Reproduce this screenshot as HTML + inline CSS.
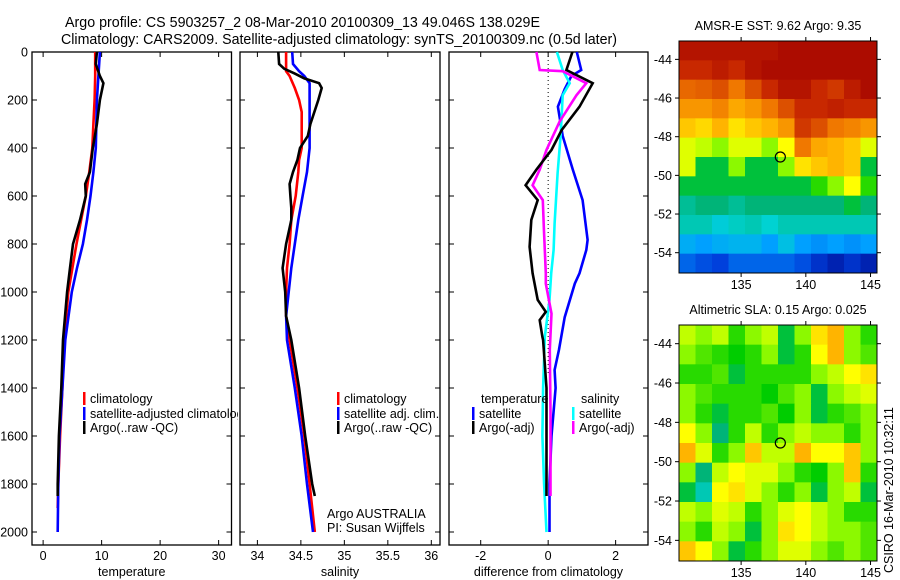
<!DOCTYPE html>
<html><head><meta charset="utf-8"><style>
html,body{margin:0;padding:0;background:#fff;}
svg{display:block;font-family:"Liberation Sans",sans-serif;}
</style></head><body>
<svg id="fig" width="900" height="580" viewBox="0 0 900 580" xmlns="http://www.w3.org/2000/svg">
<rect width="900" height="580" fill="#fff"/>
<text x="65" y="27" font-size="14.5" textLength="475" lengthAdjust="spacingAndGlyphs">Argo profile: CS 5903257_2 08-Mar-2010 20100309_13 49.046S 138.029E</text>
<text x="61" y="44" font-size="14.5" textLength="556" lengthAdjust="spacingAndGlyphs">Climatology: CARS2009. Satellite-adjusted climatology: synTS_20100309.nc (0.5d later)</text>
<g id="plots"></g>
</svg>
<script>
// ---------- profile data ----------
const tempClimDepth = [0,100,200,300,400,500,600,700,800,900,1000,1200,1400,1600,1800,1900];
const tempClim      = [8.9,8.9,8.8,8.6,8.4,7.9,7.3,6.5,5.7,5.0,4.3,3.6,3.3,2.9,2.6,2.5];
const tempSatDepth  = [0,200,400,500,600,700,800,900,1000,1200,1400,1600,1800,2000];
const tempSat       = [9.7,9.2,9.0,8.6,8.1,7.5,6.8,5.8,4.9,3.8,3.3,2.8,2.6,2.5];
const tempArgoDepth = [0,50,100,130,200,300,400,500,550,600,700,800,900,1000,1200,1400,1600,1800,1850];
const tempArgo      = [9.2,9.0,9.7,10.3,9.7,9.2,8.5,8.0,7.2,7.3,6.3,5.1,4.6,4.1,3.4,3.1,2.7,2.5,2.5];

const salClimDepth = [0,80,100,150,200,250,300,400,450,500,600,700,800,900,1000,1100,1200,1400,1600,1800,2000];
const salClim      = [34.33,34.33,34.37,34.43,34.48,34.51,34.51,34.51,34.48,34.47,34.44,34.39,34.37,34.34,34.33,34.33,34.37,34.46,34.54,34.60,34.66];
const salSatDepth  = [0,50,80,100,130,200,300,400,500,600,700,800,900,1000,1100,1200,1400,1600,1800,2000];
const salSat       = [34.40,34.41,34.48,34.54,34.60,34.60,34.60,34.60,34.57,34.52,34.47,34.43,34.39,34.36,34.33,34.34,34.43,34.51,34.57,34.64];
const salArgoDepth = [0,50,70,90,110,130,150,200,300,350,400,450,500,550,600,650,700,800,900,1000,1100,1200,1400,1600,1800,1850];
const salArgo      = [34.24,34.25,34.31,34.43,34.54,34.71,34.74,34.70,34.61,34.58,34.49,34.46,34.41,34.37,34.38,34.39,34.39,34.33,34.29,34.32,34.33,34.39,34.48,34.55,34.63,34.66];

const dTempArgoDepth = [0,75,130,228,325,408,490,555,617,700,812,922,1033,1083,1117,1187,1200,1400,1600,1850];
const dTempArgo      = [0.72,0.54,1.32,0.93,0.40,0.10,-0.35,-0.67,-0.31,-0.50,-0.55,-0.46,-0.31,-0.07,-0.25,-0.17,-0.15,-0.05,-0.05,-0.05];
const dSalArgoDepth  = [0,75,80,130,180,290,408,490,555,617,728,922,965,1090,1240,1500,1850];
const dSalArgo       = [-0.35,-0.25,0.43,1.13,0.84,0.34,-0.05,-0.25,-0.46,-0.16,-0.13,-0.07,-0.07,0.10,0.05,0.07,0.07];
const dSalSatDepth   = [0,75,130,180,350,505,714,825,922,1033,1187,1400,1600,1800,2000];
const dSalSat        = [0.26,0.43,0.64,0.43,0.37,0.28,0.19,0.16,0.09,0.04,-0.10,-0.15,-0.17,-0.12,-0.05];
const dTempSatDepth  = [0,75,100,155,228,350,490,617,783,825,922,965,1105,1240,1325,1400,1600,1800,2000];
const dTempSat       = [0.85,0.98,0.69,0.49,0.29,0.43,0.73,1.02,1.17,1.13,0.93,0.79,0.49,0.32,0.19,0.22,0.10,0.04,0.04];

const depthTicks = [0,200,400,600,800,1000,1200,1400,1600,1800,2000];
const tempTicks = [0,10,20,30];
const salTicks = [34,34.5,35,35.5,36];
const salTickLabels = ["34","34.5","35","35.5","36"];
const diffTicks = [-2,0,2];

// ---------- map data (values on 0..1 colour scale) ----------
const sstValues = [
 [0.95,0.95,0.95,0.95,0.95,0.95,0.97,0.97,0.97,0.97,0.97,0.97],
 [0.90,0.90,0.93,0.90,0.95,0.97,0.97,0.97,0.97,0.97,0.97,0.97],
 [0.82,0.83,0.85,0.80,0.85,0.90,0.95,0.95,0.90,0.88,0.93,0.97],
 [0.75,0.75,0.78,0.72,0.75,0.80,0.85,0.90,0.90,0.92,0.90,0.90],
 [0.68,0.66,0.70,0.65,0.68,0.70,0.75,0.88,0.85,0.80,0.78,0.75],
 [0.60,0.58,0.55,0.60,0.60,0.55,0.62,0.80,0.72,0.70,0.68,0.60],
 [0.60,0.45,0.45,0.55,0.45,0.45,0.55,0.65,0.68,0.70,0.68,0.45],
 [0.45,0.45,0.45,0.45,0.45,0.45,0.45,0.45,0.50,0.55,0.62,0.50],
 [0.40,0.42,0.42,0.40,0.42,0.42,0.42,0.42,0.42,0.42,0.45,0.42],
 [0.38,0.38,0.35,0.37,0.38,0.36,0.38,0.38,0.38,0.38,0.38,0.38],
 [0.30,0.28,0.30,0.31,0.31,0.28,0.33,0.28,0.26,0.28,0.26,0.28],
 [0.20,0.17,0.15,0.20,0.20,0.20,0.20,0.17,0.12,0.08,0.12,0.08]];
const slaValues = [
 [0.58,0.55,0.58,0.50,0.55,0.58,0.45,0.55,0.65,0.70,0.55,0.50],
 [0.55,0.52,0.50,0.48,0.50,0.55,0.45,0.50,0.62,0.70,0.55,0.52],
 [0.50,0.50,0.52,0.45,0.50,0.50,0.50,0.50,0.55,0.58,0.62,0.65],
 [0.55,0.52,0.50,0.50,0.50,0.48,0.52,0.55,0.45,0.55,0.58,0.60],
 [0.55,0.50,0.45,0.50,0.50,0.52,0.48,0.55,0.45,0.50,0.52,0.55],
 [0.62,0.55,0.42,0.50,0.58,0.50,0.55,0.58,0.55,0.55,0.50,0.55],
 [0.70,0.60,0.50,0.55,0.68,0.58,0.58,0.70,0.62,0.62,0.68,0.55],
 [0.55,0.42,0.58,0.62,0.60,0.60,0.55,0.50,0.48,0.55,0.68,0.50],
 [0.45,0.38,0.62,0.65,0.60,0.55,0.50,0.55,0.45,0.55,0.58,0.45],
 [0.58,0.55,0.60,0.58,0.50,0.55,0.60,0.62,0.58,0.55,0.50,0.50],
 [0.55,0.50,0.58,0.55,0.45,0.55,0.65,0.62,0.58,0.55,0.55,0.52],
 [0.68,0.62,0.55,0.45,0.50,0.55,0.60,0.60,0.55,0.52,0.55,0.52]];
const lonTicks = [135,140,145];
const latTicks = [-44,-46,-48,-50,-52,-54];
const argoLon = 138.03, argoLat = -49.05;

// ---------- drawing ----------
const NS = "http://www.w3.org/2000/svg";
const root = document.getElementById('plots');
function el(tag, attrs, parent, text) {
  const e = document.createElementNS(NS, tag);
  for (const k in attrs) e.setAttribute(k, attrs[k]);
  if (text !== undefined) e.textContent = text;
  (parent || root).appendChild(e);
  return e;
}
const T = 52, B = 545;
const yD = d => 52 + d * 0.24;

function panel(name, x0, x1, xmin, xmax, ticks, labels, xlabel, showY) {
  const g = el('g', {});
  
  
  const xs = v => x0 + (v - xmin) / (xmax - xmin) * (x1 - x0);
  const fr = el('rect', {x: x0, y: T, width: x1 - x0, height: B - T, fill: 'none', stroke: '#000', 'stroke-width': 1.3}, g);
  
  
  ticks.forEach((t, i) => {
    const x = xs(t);
    el('line', {x1: x, x2: x, y1: B, y2: B - 5, stroke: '#000'}, g);
    el('line', {x1: x, x2: x, y1: T, y2: T + 5, stroke: '#000'}, g);
    const lb = el('text', {x: x, y: 560, 'font-size': 12.5, 'text-anchor': 'middle'}, g, labels[i]);
    
    
  });
  depthTicks.forEach(d => {
    const y = yD(d);
    el('line', {x1: x0, x2: x0 + 5, y1: y, y2: y, stroke: '#000'}, g);
    el('line', {x1: x1, x2: x1 - 5, y1: y, y2: y, stroke: '#000'}, g);
    if (showY) {
      const lb = el('text', {x: 28, y: y + 4.5, 'font-size': 12.5, 'text-anchor': 'end'}, g, String(d));
      
      
    }
  });
  const xl = el('text', {x: (x0 + x1) / 2, y: 576, 'font-size': 12.5, 'text-anchor': 'middle'}, g, xlabel);
  
  
  return {g, xs};
}
function line(p, depths, vals, color, name) {
  const pts = depths.map((d, i) => p.xs(vals[i]).toFixed(1) + ',' + yD(d).toFixed(1)).join(' ');
  const pl = el('polyline', {points: pts, fill: 'none', stroke: color, 'stroke-width': 2.6, 'stroke-linejoin': 'miter'}, p.g);
  
  
}
function legend(g, x, y, color, label, name) {
  const lg = el('g', {}, g);
  
  
  if (color) el('rect', {x: x, y: y - 11, width: 2.5, height: 13, fill: color}, lg);
  el('text', {x: x + 7, y: y, 'font-size': 12.5}, lg, label);
}

// temperature
const p1 = panel('temperature-panel', 32, 231.5, -1.9, 32.2, tempTicks, tempTicks.map(String), 'temperature', true);
line(p1, tempClimDepth, tempClim, '#f00', 'temp-climatology-line');
line(p1, tempSatDepth, tempSat, '#00f', 'temp-satellite-line');
line(p1, tempArgoDepth, tempArgo, '#000', 'temp-argo-line');
const clipDef = el('clipPath', {id: 'c1'}, p1.g);
el('rect', {x: 32, y: 0, width: 206, height: 580}, clipDef);
const lg1 = el('g', {'clip-path': 'url(#c1)'}, p1.g);
legend(lg1, 83, 403, '#f00', 'climatology', 'legend-climatology');
legend(lg1, 83, 418, '#00f', 'satellite-adjusted climatology', 'legend-satellite-adjusted');
legend(lg1, 83, 432, '#000', 'Argo(..raw -QC)', 'legend-argo');

// salinity
const p2 = panel('salinity-panel', 240, 440, 33.8, 36.1, salTicks, salTickLabels, 'salinity', false);
line(p2, salClimDepth, salClim, '#f00', 'sal-climatology-line');
line(p2, salSatDepth, salSat, '#00f', 'sal-satellite-line');
line(p2, salArgoDepth, salArgo, '#000', 'sal-argo-line');
legend(p2.g, 337, 403, '#f00', 'climatology', 'legend-climatology');
legend(p2.g, 337, 418, '#00f', 'satellite adj. clim.', 'legend-satellite');
legend(p2.g, 337, 432, '#000', 'Argo(..raw -QC)', 'legend-argo');
el('text', {x: 327, y: 518, 'font-size': 12.5}, p2.g, 'Argo AUSTRALIA');
el('text', {x: 327, y: 532, 'font-size': 12.5}, p2.g, 'PI: Susan Wijffels');

// difference
const p3 = panel('difference-panel', 449, 648, -2.94, 2.96, diffTicks, diffTicks.map(String), 'difference from climatology', false);
el('line', {x1: p3.xs(0), x2: p3.xs(0), y1: T, y2: yD(1350), stroke: '#000', 'stroke-dasharray': '1,3', 'stroke-width': 1}, p3.g);
line(p3, dTempSatDepth, dTempSat, '#00f', 'diff-temp-satellite-line');
line(p3, dSalSatDepth, dSalSat, '#0ff', 'diff-sal-satellite-line');
line(p3, dSalArgoDepth, dSalArgo, '#f0f', 'diff-sal-argo-line');
line(p3, dTempArgoDepth, dTempArgo, '#000', 'diff-temp-argo-line');
legend(p3.g, 474, 403, null, 'temperature', 'legend-temperature-header');
legend(p3.g, 574, 403, null, 'salinity', 'legend-salinity-header');
legend(p3.g, 472, 418, '#00f', 'satellite', 'legend-temp-satellite');
legend(p3.g, 472, 432, '#000', 'Argo(-adj)', 'legend-temp-argo');
legend(p3.g, 572, 418, '#0ff', 'satellite', 'legend-sal-satellite');
legend(p3.g, 572, 432, '#f0f', 'Argo(-adj)', 'legend-sal-argo');

// maps
const cmapStops = [
 [0.00,0,0,128],[0.15,0,64,220],[0.28,0,160,255],[0.36,0,210,210],[0.42,0,180,120],
 [0.48,0,205,0],[0.56,160,255,0],[0.62,255,255,0],[0.70,255,180,0],[0.80,240,120,0],
 [0.90,200,40,0],[1.00,160,0,0]];
function cmap(v) {
  v = Math.max(0, Math.min(1, v));
  for (let i = 1; i < cmapStops.length; i++) {
    const a = cmapStops[i - 1], b = cmapStops[i];
    if (v <= b[0]) {
      const t = (v - a[0]) / (b[0] - a[0]);
      return 'rgb(' + [1, 2, 3].map(k => Math.round(a[k] + t * (b[k] - a[k]))).join(',') + ')';
    }
  }
  return 'rgb(160,0,0)';
}
function map(name, title, values, x0, x1, y0, y1) {
  const g = el('g', {});
  
  
  const lonMin = 130.2, lonMax = 145.5, latMax = -43.05, latMin = -55.05;
  const xs = v => x0 + (v - lonMin) / (lonMax - lonMin) * (x1 - x0);
  const ys = v => y0 + (latMax - v) / (latMax - latMin) * (y1 - y0);
  const rows = values.length, cols = values[0].length;
  const cw = (x1 - x0) / cols, ch = (y1 - y0) / rows;
  values.forEach((row, r) => row.forEach((v, c) => {
    const cell = el('rect', {x: (x0 + c * cw).toFixed(2), y: (y0 + r * ch).toFixed(2), width: (cw + 0.4).toFixed(2), height: (ch + 0.4).toFixed(2), fill: cmap(v)}, g);
    
    
  }));
  el('rect', {x: x0, y: y0, width: x1 - x0, height: y1 - y0, fill: 'none', stroke: '#000', 'stroke-width': 1}, g);
  lonTicks.forEach(t => {
    const x = xs(t);
    el('line', {x1: x, x2: x, y1: y1, y2: y1 + 4, stroke: '#000'}, g);
    el('line', {x1: x, x2: x, y1: y0, y2: y0 - 4, stroke: '#000'}, g);
    const lb = el('text', {x: x, y: y1 + 16, 'font-size': 12.5, 'text-anchor': 'middle'}, g, String(t));
    
    
  });
  latTicks.forEach(t => {
    const y = ys(t);
    el('line', {x1: x0, x2: x0 - 4, y1: y, y2: y, stroke: '#000'}, g);
    el('line', {x1: x1, x2: x1 + 4, y1: y, y2: y, stroke: '#000'}, g);
    const lb = el('text', {x: x0 - 7, y: y + 4.5, 'font-size': 12.5, 'text-anchor': 'end'}, g, String(t));
    
    
  });
  const mk = el('circle', {cx: xs(argoLon), cy: ys(argoLat), r: 5, fill: 'none', stroke: '#000', 'stroke-width': 1.2}, g);
  
  
  const tt = el('text', {x: (x0 + x1) / 2, y: y0 - 11, 'font-size': 12.5, 'text-anchor': 'middle'}, g, title);
  
  
}
map('sst-map', 'AMSR-E SST: 9.62  Argo: 9.35', sstValues, 679, 877, 41, 273);
map('sla-map', 'Altimetric SLA: 0.15  Argo: 0.025', slaValues, 679, 877, 325, 561);
const stamp = el('text', {x: 0, y: 0, 'font-size': 12.5, transform: 'translate(893,573) rotate(-90)'}, root, 'CSIRO 16-Mar-2010 10:32:11');


</script>
</body></html>
